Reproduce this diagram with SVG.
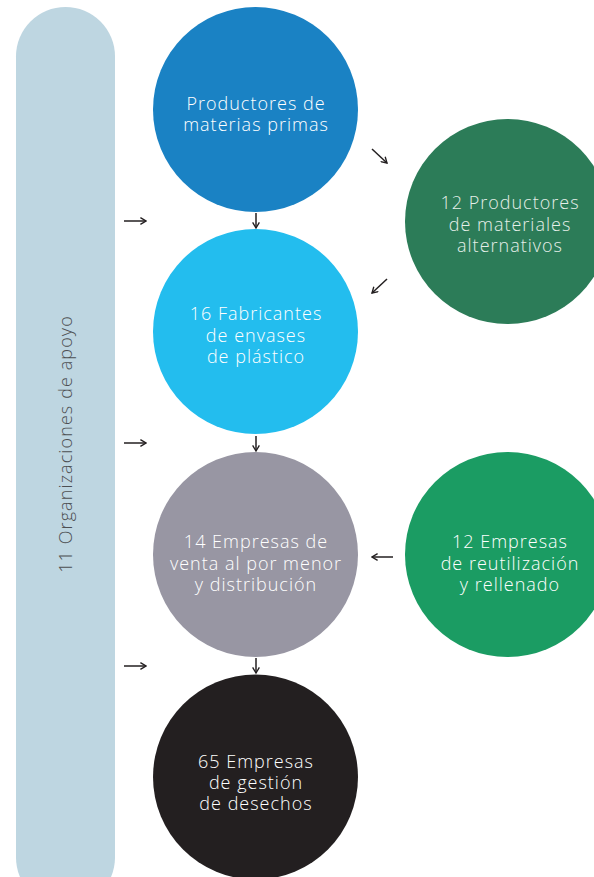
<svg xmlns="http://www.w3.org/2000/svg" width="594" height="877" viewBox="0 0 594 877">
<defs>
<marker id="ah" viewBox="0 0 10 10" refX="9" refY="5" markerWidth="8" markerHeight="8" markerUnits="userSpaceOnUse" orient="auto">
<path d="M2,0.8 L9,5 L2,9.2" fill="none" stroke="#231f20" stroke-width="1.7"/>
</marker>
<style>
.lbl{font-family:"Open Sans","Liberation Sans",sans-serif;font-size:18px;font-weight:300;letter-spacing:1px;fill:#ffffff;text-anchor:middle}
.arr{stroke:#231f20;stroke-width:1.5;fill:none;marker-end:url(#ah)}
</style>
</defs>
<rect width="594" height="877" fill="#ffffff"/>
<g id="apoyo">
<rect x="16" y="7" width="99" height="900" rx="49.5" fill="#bed6e1"/>
<text transform="translate(72,444) rotate(-90)" font-family="'Open Sans','Liberation Sans',sans-serif" font-size="18" font-weight="300" letter-spacing="1.1" fill="#4d4f52" text-anchor="middle">11 Organizaciones de apoyo</text>
</g>
<g id="productores-materias">
<circle cx="255.5" cy="109.5" r="102.5" fill="#1a82c4"/>
<text class="lbl"><tspan x="256" y="110">Productores de</tspan><tspan x="256" y="131">materias primas</tspan></text>
</g>
<g id="materiales-alternativos">
<circle cx="507.5" cy="221.5" r="102.5" fill="#2c7c58"/>
<text class="lbl" style="fill:#e6efe9"><tspan x="510" y="209">12 Productores</tspan><tspan x="510" y="231">de materiales</tspan><tspan x="510" y="252">alternativos</tspan></text>
</g>
<g id="fabricantes">
<circle cx="255.5" cy="331.5" r="102.5" fill="#23bdee"/>
<text class="lbl"><tspan x="256" y="320">16 Fabricantes</tspan><tspan x="256" y="342">de envases</tspan><tspan x="256" y="363">de plástico</tspan></text>
</g>
<g id="venta">
<circle cx="255.5" cy="554.5" r="102.5" fill="#9896a3"/>
<text class="lbl"><tspan x="256" y="548">14 Empresas de</tspan><tspan x="256" y="570">venta al por menor</tspan><tspan x="256" y="591">y distribución</tspan></text>
</g>
<g id="reutilizacion">
<circle cx="507.5" cy="554.5" r="102.5" fill="#1b9c63"/>
<text class="lbl"><tspan x="510" y="548">12 Empresas</tspan><tspan x="510" y="570">de reutilización</tspan><tspan x="510" y="591">y rellenado</tspan></text>
</g>
<g id="desechos">
<circle cx="255.5" cy="777" r="102.5" fill="#231f20"/>
<text class="lbl"><tspan x="256" y="768">65 Empresas</tspan><tspan x="256" y="789">de gestión</tspan><tspan x="256" y="810">de desechos</tspan></text>
</g>
<g id="connectors">
<path class="arr" d="M124,221 H146"/>
<path class="arr" d="M124,443 H146"/>
<path class="arr" d="M124,666 H146"/>
<path class="arr" d="M256,213 V228"/>
<path class="arr" d="M256,436 V451"/>
<path class="arr" d="M256,658 V673"/>
<path class="arr" d="M372,149 L387,163"/>
<path class="arr" d="M387,279 L372,293"/>
<path class="arr" d="M393,557 H372"/>
</g>
</svg>
